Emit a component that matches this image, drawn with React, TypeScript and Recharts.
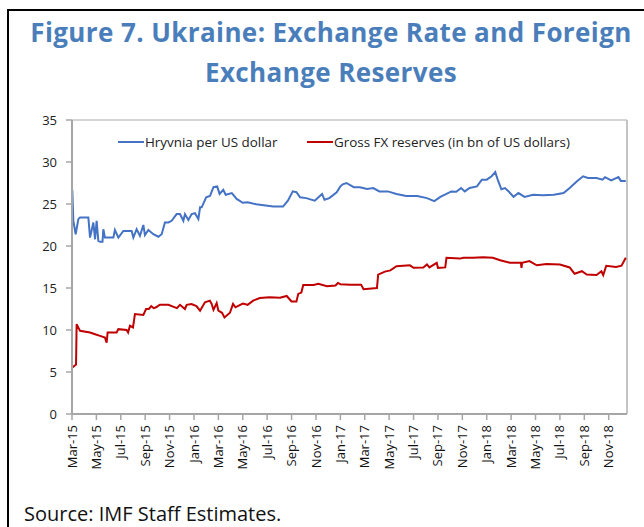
import { LineChart, Line, XAxis, YAxis, ReferenceLine } from 'recharts';

// x values are months since 1 Mar 2015
const HRYVNIA_T = [
  0, 0.03, 0.11, 0.3, 0.52, 0.66, 1.34, 1.48, 1.75, 1.89, 2.02, 2.16, 2.3, 2.5, 2.57, 2.7, 2.98, 3.39, 3.52,
  3.8, 4.21, 4.89, 5.03, 5.3, 5.57, 5.85, 5.98, 6.26, 6.67, 7.08, 7.35, 7.62, 7.9, 8.17, 8.58, 8.85, 9.13,
  9.26, 9.54, 9.81, 10.08, 10.36, 10.5, 10.63, 11.0, 11.31, 11.6, 11.9, 12.1, 12.4, 12.6, 13.1, 13.5, 14.0,
  14.4, 15.1, 16.5, 17.3, 17.7, 18.1, 18.4, 18.7, 19.2, 19.9, 20.5, 20.7, 21.1, 21.7, 22.0, 22.2, 22.5, 23.1,
  23.6, 24.2, 24.7, 25.2, 25.9, 26.6, 27.4, 28.3, 29.1, 29.7, 30.2, 30.7, 31.1, 31.5, 31.9, 32.2, 32.6, 33.2,
  33.6, 34.0, 34.4, 34.7, 34.9, 35.2, 35.5, 35.8, 36.2, 36.6, 37.1, 37.8, 38.6, 39.5, 40.3, 40.8, 41.4, 41.9,
  42.3, 43.0, 43.5, 43.7, 44.2, 44.8, 45.0, 45.4,
];
const HRYVNIA = [
  26.8, 26.5, 23.0, 21.4, 23.2, 23.4, 23.4, 21.0, 22.8, 20.8, 23.0, 20.6, 20.5, 20.5, 22.0, 21.0, 21.0, 21.0, 21.9,
  21.0, 21.8, 21.8, 21.0, 22.0, 21.2, 22.5, 21.3, 21.9, 21.4, 21.1, 21.4, 22.8, 22.8, 23.0, 23.8, 23.8, 23.0,
  23.8, 23.1, 23.8, 23.9, 23.2, 24.6, 24.6, 25.8, 25.95, 27.0, 27.1, 26.2, 26.7, 26.1, 26.3, 25.6, 25.15,
  25.2, 24.96, 24.7, 24.7, 25.4, 26.5, 26.4, 25.8, 25.7, 25.4, 26.2, 25.5, 25.7, 26.4, 27.1, 27.35, 27.5, 27.0,
  27.0, 26.8, 26.9, 26.5, 26.5, 26.2, 25.95, 25.95, 25.7, 25.35, 25.85, 26.2, 26.5, 26.45, 26.9, 26.5, 26.9, 27.1,
  27.9, 27.9, 28.3, 28.8, 27.9, 26.75, 26.9, 26.5, 25.85, 26.3, 25.85, 26.1, 26.05, 26.1, 26.3, 26.9, 27.7, 28.3,
  28.1, 28.1, 27.9, 28.2, 27.8, 28.2, 27.75, 27.75,
];

const RESERVES_T = [
  0, 0.33, 0.38, 0.66, 1.48, 1.89, 2.3, 2.7, 2.84, 2.92, 3.66, 3.8, 4.48, 4.6, 4.75, 5.0, 5.16, 5.85, 6.07,
  6.3, 6.5, 6.7, 6.9, 7.2, 7.9, 8.6, 8.85, 9.26, 9.4, 9.8, 10.2, 10.5, 10.9, 11.3, 11.45, 11.6, 11.86, 12.0, 12.3,
  12.5, 12.95, 13.2, 13.4, 14.0, 14.4, 14.85, 15.4, 16.2, 17.05, 17.6, 18.0, 18.4, 18.55, 18.8, 18.96, 19.8,
  20.2, 20.9, 21.6, 21.8, 22.0, 22.8, 23.7, 23.9, 25.0, 25.1, 25.65, 26.1, 26.6, 27.7, 28.0, 28.8, 29.1, 29.3,
  29.9, 30.0, 30.6, 30.7, 31.8, 32.1, 32.9, 33.7, 34.5, 35.1, 35.9, 36.8, 36.85, 36.9, 37.5, 38.1, 38.9, 40.0,
  40.8, 41.2, 41.8, 42.2, 43.0, 43.4, 43.55, 43.8, 44.6, 45.05, 45.4,
];
const RESERVES = [
  5.5, 5.9, 10.7, 9.9, 9.7, 9.5, 9.3, 9.1, 8.5, 9.7, 9.7, 10.1, 10.0, 9.7, 10.5, 10.3, 11.9, 11.8, 12.5,
  12.5, 12.85, 12.6, 12.7, 13.0, 13.0, 12.6, 13.0, 12.5, 13.0, 13.1, 12.85, 12.3, 13.3, 13.5, 13.1, 12.4, 13.2, 12.3, 12.05,
  11.5, 12.05, 13.1, 12.7, 13.15, 13.0, 13.5, 13.8, 13.9, 13.85, 14.05, 13.4, 13.4, 14.3, 14.45, 15.35, 15.35,
  15.5, 15.2, 15.3, 15.6, 15.45, 15.4, 15.4, 14.85, 15.0, 16.6, 16.95, 17.1, 17.6, 17.7, 17.4, 17.45, 17.8, 17.45,
  18.0, 17.4, 17.45, 18.6, 18.5, 18.6, 18.6, 18.65, 18.6, 18.3, 18.0, 18.0, 17.4, 18.0, 18.2, 17.7, 17.85, 17.8,
  17.45, 16.7, 17.0, 16.6, 16.55, 17.0, 16.55, 17.65, 17.5, 17.65, 18.6,
];

const TICK_MONTHS = [0, 2, 4, 6, 8, 10, 12, 14, 16, 18, 20, 22, 24, 26, 28, 30, 32, 34, 36, 38, 40, 42, 44];
const TICK_LABELS = [
  'Mar-15', 'May-15', 'Jul-15', 'Sep-15', 'Nov-15', 'Jan-16', 'Mar-16', 'May-16', 'Jul-16', 'Sep-16', 'Nov-16',
  'Jan-17', 'Mar-17', 'May-17', 'Jul-17', 'Sep-17', 'Nov-17', 'Jan-18', 'Mar-18', 'May-18', 'Jul-18', 'Sep-18', 'Nov-18',
];
const Y_TICKS = [0, 5, 10, 15, 20, 25, 30, 35];

const BLUE = '#4472c4';
const RED = '#c00000';
const AXIS = '#a6a6a6';
const FONT = '"Open Sans", sans-serif';

const hryvniaData = HRYVNIA_T.map((t, i) => ({ t, v: HRYVNIA[i] }));
const reservesData = RESERVES_T.map((t, i) => ({ t, v: RESERVES[i] }));

function MonthTick({ x, y, payload }: any) {
  const idx = TICK_MONTHS.indexOf(payload.value);
  return (
    <text
      x={x}
      y={y}
      transform={`rotate(-90, ${x}, ${y})`}
      textAnchor="end"
      dy="0.35em"
      fontSize={13}
      fontFamily={FONT}
      fill="#111"
    >
      {TICK_LABELS[idx]}
    </text>
  );
}

function LegendItem({ left, color, label }: { left: number; color: string; label: string }) {
  return (
    <div style={{ position: 'absolute', left, top: 133, height: 18, display: 'flex', alignItems: 'center' }}>
      <svg width={26} height={18}>
        <line x1={0} y1={9} x2={26} y2={9} stroke={color} strokeWidth={2} />
      </svg>
      <span style={{ fontFamily: FONT, fontSize: 13.4, color: '#222', marginLeft: 1, whiteSpace: 'nowrap' }}>{label}</span>
    </div>
  );
}

export default function App() {
  return (
    <div style={{ position: 'fixed', left: 0, top: 0, width: 644, height: 527, overflow: 'hidden', background: '#fff' }}>
      <div style={{ position: 'absolute', left: 7, top: 9, width: 700, height: 600, border: '2px solid #000' }} />
      <div
        style={{
          position: 'absolute', left: 20, top: 12, width: 622, textAlign: 'center',
          fontFamily: FONT, fontWeight: 700, fontSize: 26, letterSpacing: 0.4, lineHeight: '40px', color: '#4a7ebb',
        }}
      >
        Figure 7. Ukraine: Exchange Rate and Foreign<br />Exchange Reserves
      </div>
      <div style={{ position: 'absolute', left: 0, top: 0 }}>
        <LineChart width={644} height={527} margin={{ top: 120, right: 17, bottom: 53, left: 12 }}>
          <XAxis
            dataKey="t"
            type="number"
            domain={[0, 45.5]}
            ticks={TICK_MONTHS}
            interval={0}
            height={60}
            tickSize={6}
            tickMargin={5}
            tick={<MonthTick />}
            axisLine={{ stroke: AXIS, strokeWidth: 2 }}
            tickLine={{ stroke: AXIS, strokeWidth: 1.5 }}
          />
          <YAxis
            type="number"
            domain={[0, 35]}
            ticks={Y_TICKS}
            width={60}
            tickSize={6}
            tickMargin={9}
            tick={{ fill: '#222', fontSize: 13, fontFamily: FONT }}
            axisLine={{ stroke: AXIS, strokeWidth: 2 }}
            tickLine={{ stroke: AXIS, strokeWidth: 1.5 }}
          />
          <ReferenceLine y={35} stroke="#d4d4d4" strokeWidth={2} />
          <ReferenceLine x={45.5} stroke="#c4c4c4" strokeWidth={2} />
          <Line data={hryvniaData} dataKey="v" stroke={BLUE} strokeWidth={2} dot={false} isAnimationActive={false} />
          <Line data={reservesData} dataKey="v" stroke={RED} strokeWidth={2} dot={false} isAnimationActive={false} />
        </LineChart>
      </div>
      <LegendItem left={118} color={BLUE} label="Hryvnia per US dollar" />
      <LegendItem left={307} color={RED} label="Gross FX reserves (in bn of US dollars)" />
      <div style={{ position: 'absolute', left: 24, top: 500, fontFamily: FONT, fontSize: 20, color: '#111', whiteSpace: 'nowrap' }}>
        Source: IMF Staff Estimates.
      </div>
    </div>
  );
}
